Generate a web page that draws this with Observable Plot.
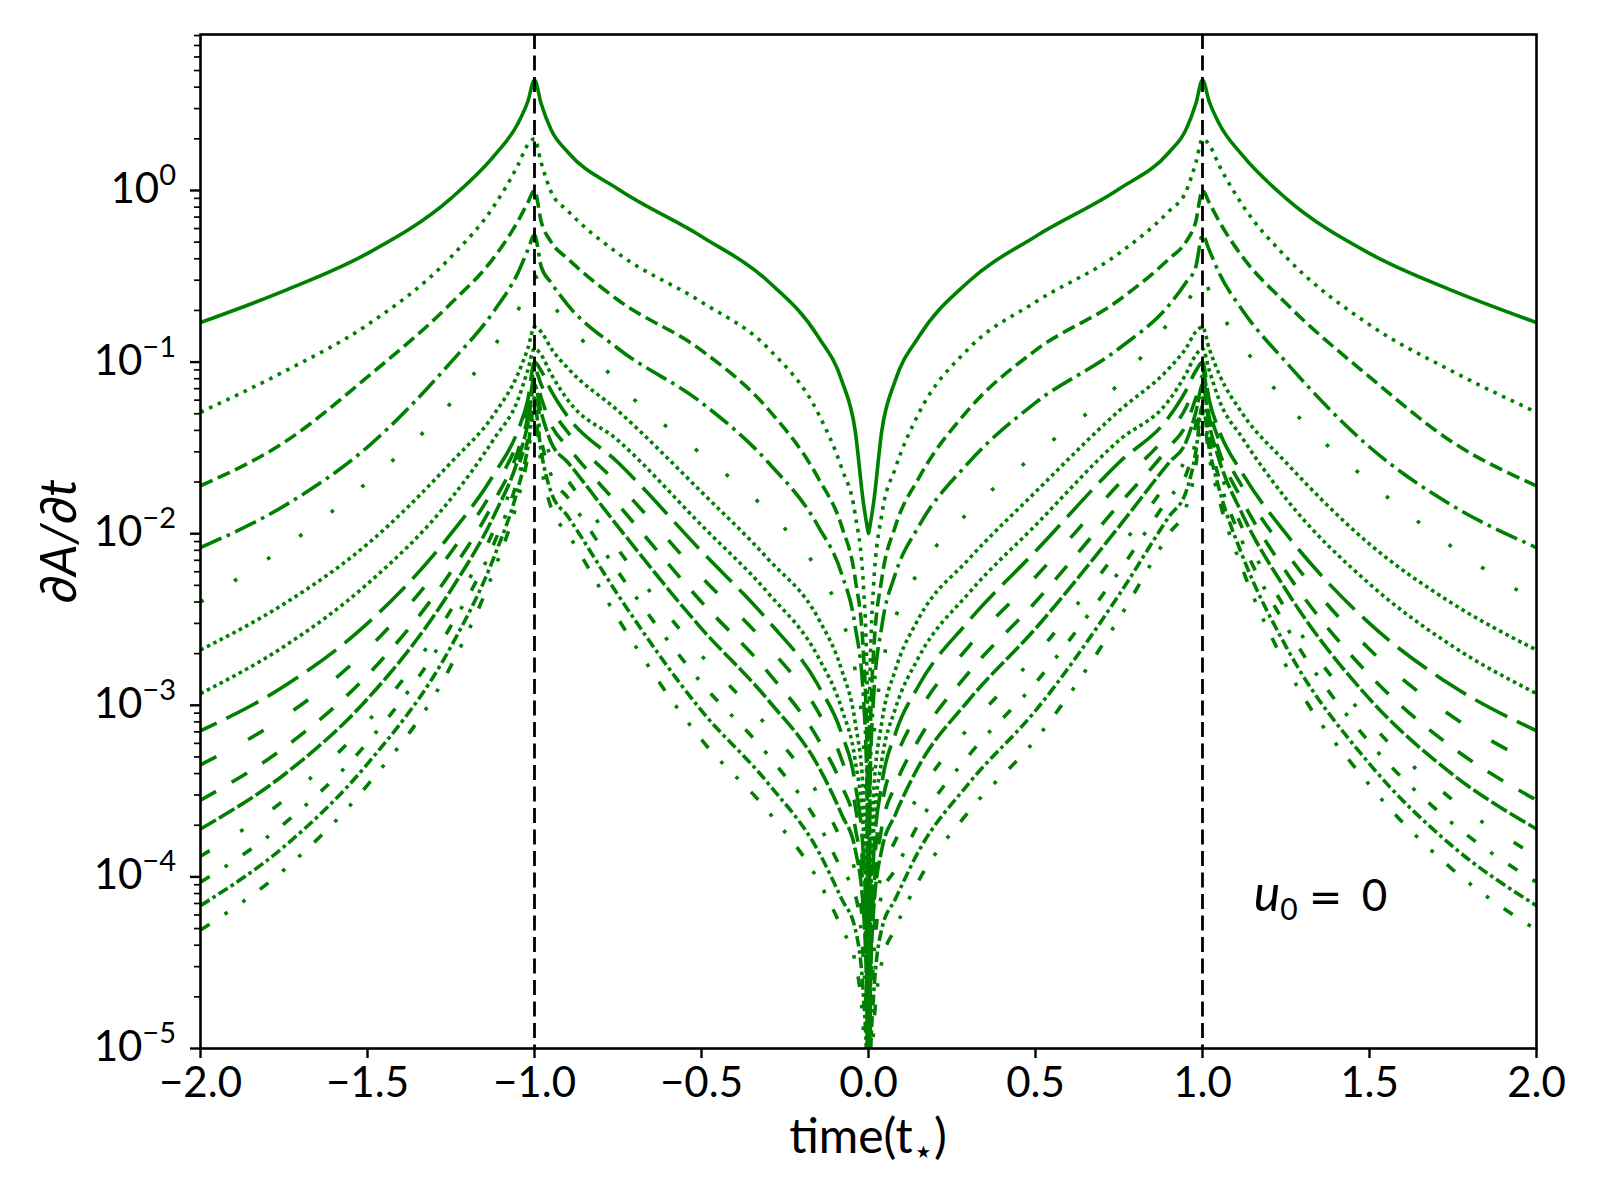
<!DOCTYPE html>
<html>
<head>
<meta charset="utf-8">
<script src="https://cdn.jsdelivr.net/npm/d3@7"></script>
<script src="https://cdn.jsdelivr.net/npm/@observablehq/plot@0.6"></script>
<style>
html, body { margin: 0; padding: 0; background: #fff; }
#chart { width: 1600px; height: 1200px; }
</style>
</head>
<body>
<div id="chart"></div>
<script>
// ---- data (left half, the chart is mirror-symmetric about t = 0) ----
const tHalf = [-2, -1.75, -1.5, -1.25, -1.12, -1.05, -1.02, -1, -0.98, -0.95, -0.9, -0.75, -0.5, -0.3, -0.15, -0.08, -0.04, -0.015, -0.004, 0];

const curve01 = [0.17, 0.26, 0.43, 0.90, 1.6, 2.45, 3.3, 4.4, 3.2, 2.25, 1.67, 1.02, 0.54, 0.295, 0.14, 0.078, 0.04, 0.015, 0.011, 0.010];
const curve02 = [0.051, 0.088, 0.165, 0.41, 0.82, 1.4, 1.85, 2.0, 1.45, 0.98, 0.76, 0.43, 0.224, 0.12, 0.05, 0.024, 0.013, 0.0049, 0.0013, 1e-7];
const curve03 = [0.019, 0.034, 0.082, 0.22, 0.41, 0.66, 0.85, 1.0, 0.66, 0.5, 0.40, 0.23, 0.117, 0.053, 0.021, 0.011, 0.0055, 0.002, 0.0005, 1e-7];
const curve04 = [0.0083, 0.0145, 0.032, 0.10, 0.2, 0.33, 0.45, 0.55, 0.36, 0.29, 0.215, 0.12, 0.058, 0.026, 0.011, 0.0058, 0.0029, 0.0011, 0.0003, 1e-7];
const curve05 = [0.0040, 0.0083, 0.020, 0.058, 0.125, 0.20, 0.26, 0.32, 0.27, 0.22, 0.17, 0.075, 0.029, 0.0134, 0.006, 0.0032, 0.0016, 0.0006, 0.00015, 1e-7];
const curve06 = [0.0021, 0.0039, 0.0087, 0.026, 0.05, 0.085, 0.12, 0.16, 0.15, 0.12, 0.092, 0.052, 0.0175, 0.0071, 0.0032, 0.0016, 0.0008, 0.0003, 0.00008, 1e-7];
const curve07 = [0.00117, 0.0022, 0.0051, 0.016, 0.036, 0.06, 0.09, 0.12, 0.11, 0.085, 0.06, 0.035, 0.0112, 0.0045, 0.0019, 0.00095, 0.00048, 0.00018, 0.00004, 1e-7];
const curve08 = [0.00071, 0.00129, 0.0030, 0.0100, 0.0224, 0.0398, 0.0603, 0.100, 0.089, 0.068, 0.048, 0.026, 0.0079, 0.0031, 0.0013, 0.00068, 0.00035, 0.00013, 0.000032, 1e-7];
const curve09 = [0.00045, 0.000855, 0.00212, 0.0078, 0.0186, 0.0347, 0.0537, 0.091, 0.074, 0.054, 0.039, 0.0195, 0.0056, 0.0022, 0.00091, 0.00048, 0.00026, 0.0001, 0.000025, 1e-7];
const curve10 = [0.00028, 0.000565, 0.0015, 0.0060, 0.0155, 0.0302, 0.0479, 0.083, 0.062, 0.043, 0.032, 0.0148, 0.0040, 0.00155, 0.00063, 0.00034, 0.000195, 0.000079, 0.00002, 1e-7];
const curve11 = [0.00019, 0.000394, 0.00109, 0.0047, 0.0129, 0.0269, 0.0437, 0.074, 0.051, 0.034, 0.026, 0.011, 0.0028, 0.00107, 0.00044, 0.00023, 0.000145, 0.000063, 0.000016, 1e-7];
const curve12 = [0.000132, 0.00028, 0.0008, 0.0036, 0.0107, 0.0240, 0.0389, 0.068, 0.043, 0.0275, 0.0204, 0.0081, 0.00195, 0.00074, 0.0003, 0.000162, 0.000107, 0.000045, 0.0000126, 1e-7];
const curve13 = [0.000093, 0.000204, 0.000607, 0.0029, 0.0089, 0.0209, 0.0355, 0.062, 0.0355, 0.0219, 0.0162, 0.006, 0.00135, 0.00051, 0.000204, 0.00011, 0.000079, 0.000032, 0.00001, 1e-7];
const curve14 = [0.000068, 0.00015, 0.000456, 0.0022, 0.0074, 0.0182, 0.0316, 0.056, 0.030, 0.0174, 0.0126, 0.0044, 0.00093, 0.00035, 0.000141, 0.000074, 0.00005, 0.00002, 0.0000063, 1e-7];
const curve15 = [0.000049, 0.00011, 0.000343, 0.0017, 0.0062, 0.0158, 0.0282, 0.050, 0.025, 0.0141, 0.010, 0.0032, 0.00063, 0.00024, 0.000095, 0.00005, 0.000032, 0.0000126, 0.0000032, 1e-7];

const caustics = [-1, 1];
const xTicks = [-2, -1.5, -1, -0.5, 0, 0.5, 1, 1.5, 2];
const yMajor = [1e-5, 1e-4, 1e-3, 1e-2, 1e-1, 1];
const yMajorExp = ["−5", "−4", "−3", "−2", "−1", "0"];

// ---- styles (matplotlib line-style sequence, in units of line width) ----
const dashStyles = [
  null, [1, 1.65], [3.7, 1.6], [6.4, 1.6, 1, 1.6], [1, 10], [1, 1], [1, 1], [10, 3],
  [5, 10], [5, 5], [5, 1], [3, 10, 1, 10], [3, 5, 1, 5], [3, 1, 1, 1], [3, 5, 1, 5, 1, 5]
];
const dashOffsets = [0, 0, 0, 0, 0, 0, 0, 5, 0, 0, 0, 0, 0, 0, 0];
const LW = 3.6;
const GREEN = "#008000";
const FONT = "Lato, 'DejaVu Sans', sans-serif";

const curves = [curve01, curve02, curve03, curve04, curve05, curve06, curve07, curve08,
                curve09, curve10, curve11, curve12, curve13, curve14, curve15];

// table: left half as read, right half mirrored
const rows = [];
curves.forEach((vals, k) => {
  tHalf.forEach((t, i) => rows.push({k, t, v: vals[i]}));
  for (let i = tHalf.length - 2; i >= 0; i--) rows.push({k, t: -tHalf[i], v: vals[i]});
});

const yMinor = [];
for (let e = -5; e <= 0; e++) for (let m = 2; m <= 9; m++) {
  const v = m * Math.pow(10, e);
  if (v < 8.1) yMinor.push(v);
}

const lineMarks = curves.map((_, k) => Plot.line(rows.filter(r => r.k === k), {
  x: "t", y: "v",
  curve: "monotone-x",
  stroke: GREEN,
  strokeWidth: LW,
  strokeLinecap: "butt",
  strokeLinejoin: "round",
  strokeDasharray: dashStyles[k] ? dashStyles[k].map(d => d * LW).join(",") : undefined,
  strokeDashoffset: dashOffsets[k] * LW,
  clip: true
}));

const fmtX = d => (d < 0 ? "−" : "") + Math.abs(d).toFixed(1);

const plot = Plot.plot({
  width: 1600,
  height: 1200,
  marginLeft: 200,
  marginRight: 64,
  marginTop: 34,
  marginBottom: 152,
  style: {fontFamily: FONT, fontSize: "42px", background: "#fff", color: "#000"},
  x: {domain: [-2, 2]},
  y: {type: "log", domain: [1e-5, 8.11]},
  marks: [
    ...lineMarks,
    Plot.ruleX(caustics, {stroke: "#000", strokeWidth: 2.8, strokeDasharray: "15,6.5"}),
    Plot.axisY({ticks: yMinor, tickSize: 6, tickFormat: () => "", strokeWidth: 1.7, label: null}),
    Plot.axisY({ticks: yMajor, tickSize: 10, tickFormat: () => "", strokeWidth: 2.4, label: null}),
    Plot.axisX({ticks: xTicks, tickSize: 10, tickPadding: 9, fontSize: 42, tickFormat: fmtX, strokeWidth: 2.4, label: null}),
    Plot.frame({stroke: "#000", strokeWidth: 2.6})
  ]
});

document.getElementById("chart").appendChild(plot);

// ---- text with super/subscripts ----
const svg = d3.select(plot);
const ys = plot.scale("y");
const xs = plot.scale("x");

yMajor.forEach((v, i) => {
  const y = ys.apply(v);
  const t = svg.append("text")
    .attr("x", 176).attr("y", y + 13)
    .attr("text-anchor", "end")
    .attr("font-family", FONT).attr("font-size", 42).attr("fill", "#000");
  t.append("tspan").text("10");
  t.append("tspan").attr("dy", -18).attr("font-size", 29).text(yMajorExp[i]);
});

// x label
const xl = svg.append("text")
  .attr("x", xs.apply(0)).attr("y", 1153)
  .attr("text-anchor", "middle")
  .attr("font-family", FONT).attr("font-size", 48).attr("fill", "#000");
xl.append("tspan").text("time(t");
xl.append("tspan").attr("dy", 10).attr("font-size", 34).attr("font-family", "'DejaVu Sans', sans-serif").text("⋆");
xl.append("tspan").attr("dy", -10).text(")");

// y label
svg.append("text")
  .attr("transform", `translate(76, ${(ys.apply(1e-5) + ys.apply(8.11)) / 2}) rotate(-90)`)
  .attr("text-anchor", "middle")
  .attr("font-family", FONT).attr("font-size", 50).attr("font-style", "italic").attr("fill", "#000")
  .text("∂A/∂t");

// annotation u0 = 0
const ax0 = xs.apply(1.155);
const ay0 = ys.apply(1e-4) + 35;
const an = svg.append("text")
  .attr("x", ax0).attr("y", ay0)
  .attr("text-anchor", "start")
  .attr("font-family", FONT).attr("font-size", 44).attr("fill", "#000");
an.append("tspan").attr("font-style", "italic").attr("font-size", 50).text("u");
an.append("tspan").attr("dy", 9).attr("font-size", 30).text("0");
an.append("tspan").attr("x", ax0 + 55).attr("dy", -9).attr("font-family", "'DejaVu Sans', sans-serif").attr("font-size", 40).text("=");
an.append("tspan").attr("x", ax0 + 108).text("0");
</script>
</body>
</html>
